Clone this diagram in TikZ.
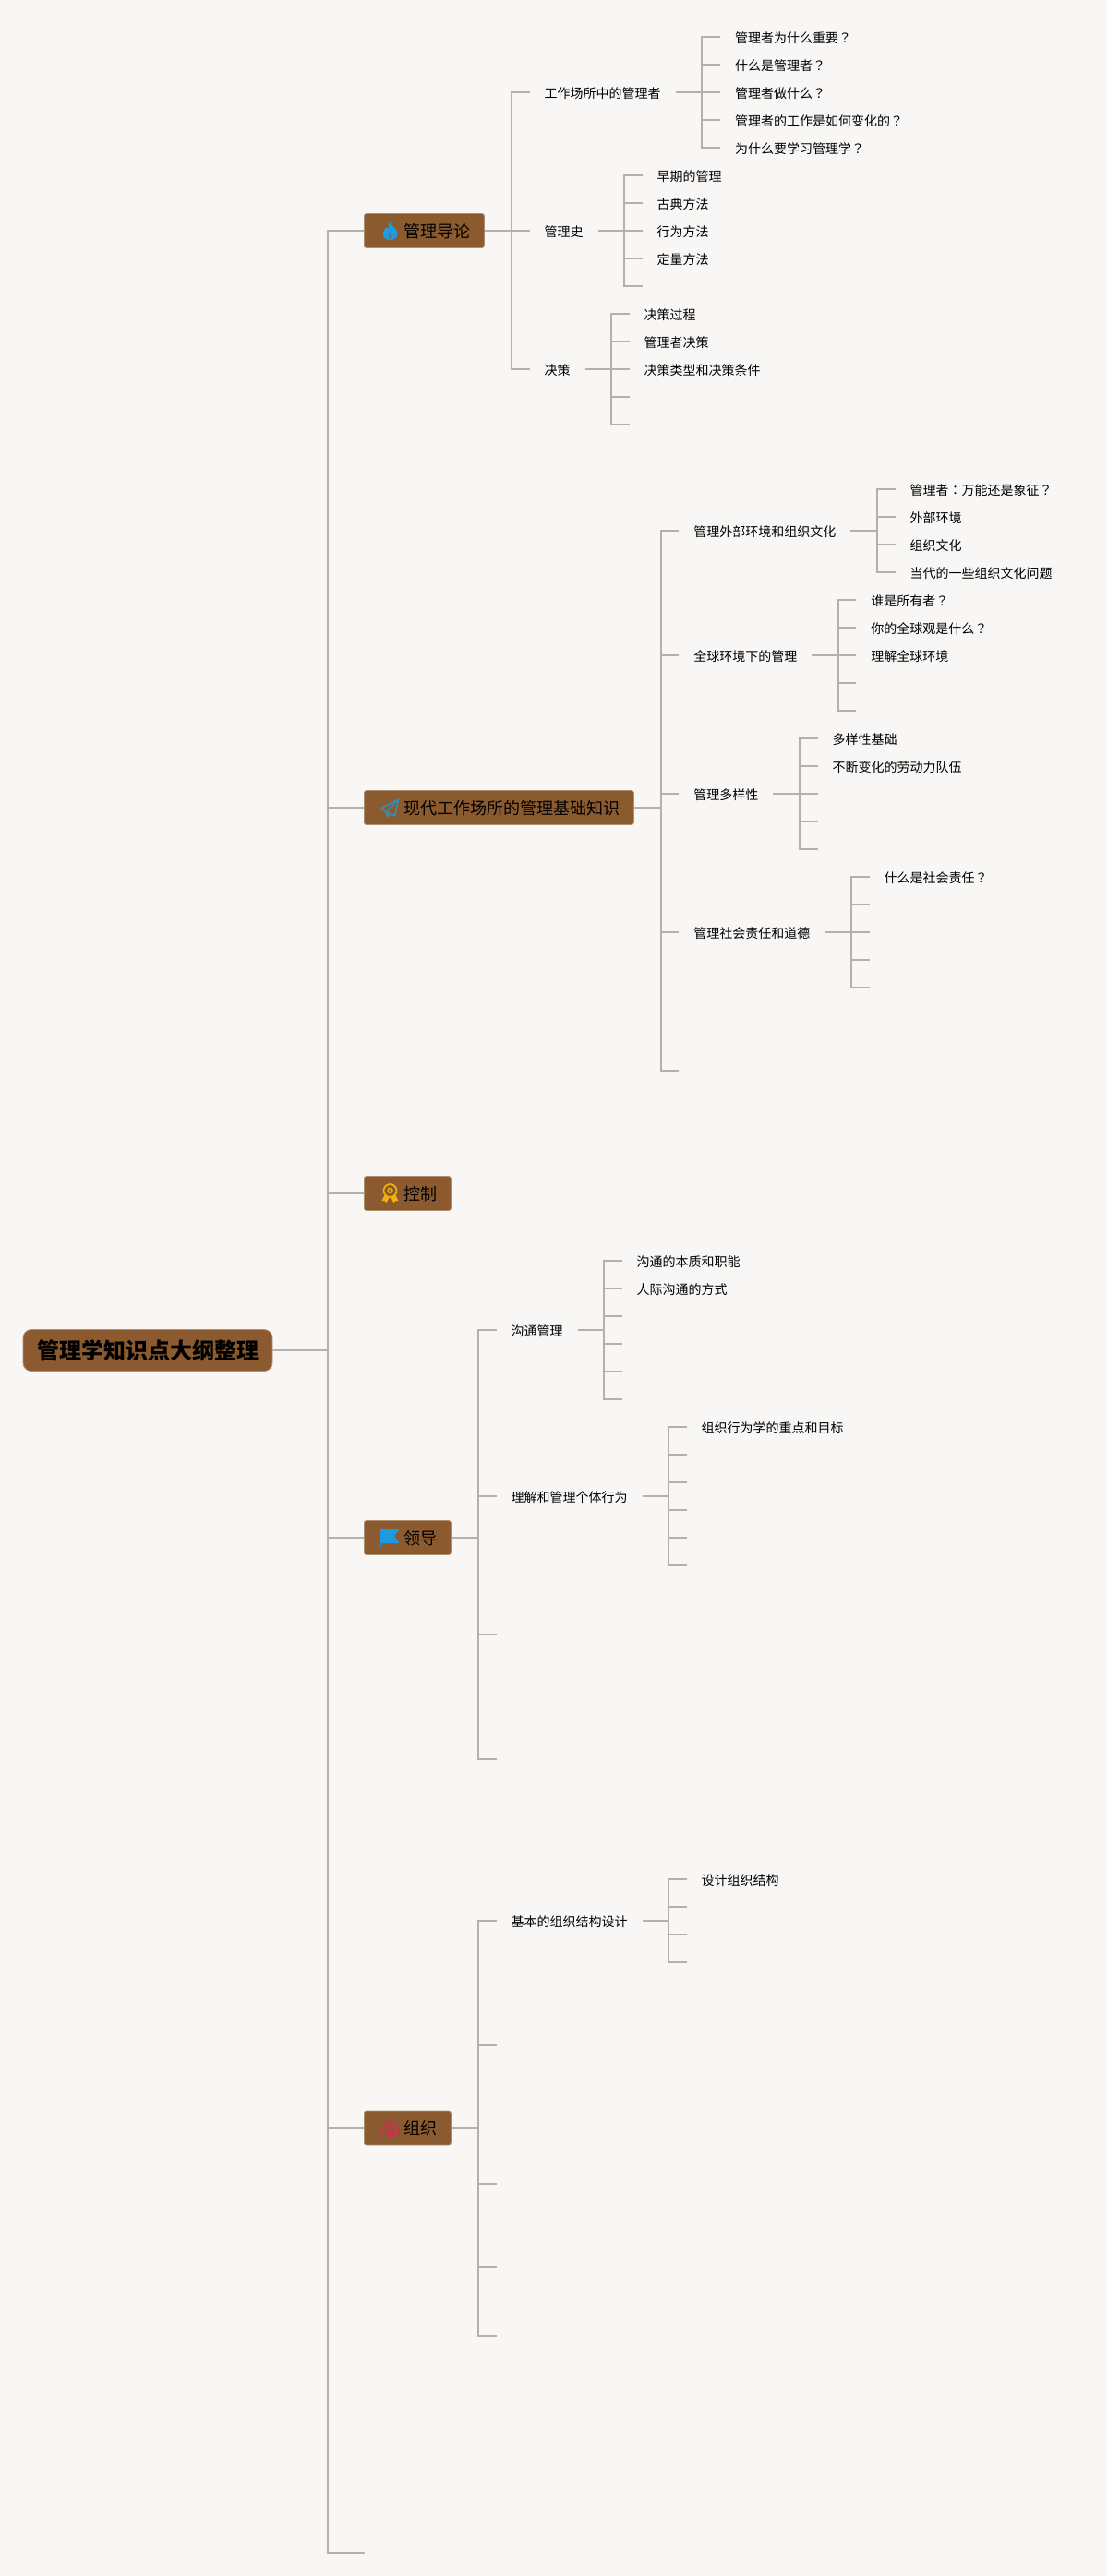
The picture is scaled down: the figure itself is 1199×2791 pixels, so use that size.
\documentclass[tikz,border=0pt]{standalone}
\usepackage{fontspec}
\setmainfont{Noto Sans CJK SC}
\newfontfamily\tcfont{Noto Sans CJK TC}
\usetikzlibrary{positioning}

\definecolor{paper}{HTML}{F9F7F5}
\definecolor{wire}{HTML}{B5B0AA}
\definecolor{bark}{HTML}{8B5A2F}
\definecolor{barkedge}{HTML}{B08F70}
\definecolor{skyblue}{HTML}{1E9BE0}
\definecolor{planeblue}{HTML}{3A8BB0}
\definecolor{gold}{HTML}{F0B010}
\definecolor{rosered}{HTML}{D02B55}

\newcommand{\boxtext}[1]{\hspace*{43pt}#1\hspace*{15pt}}
\newcommand{\askmark}{{\tcfont ？}}
\newcommand{\colonmark}{{\tcfont ：}}

\tikzset{
    flame/.pic={
        \fill[skyblue] (0,-10) .. controls (1,-5) and (8,-2) .. (8,3)
            .. controls (8,8) and (4,10) .. (0,10)
            .. controls (-4,10) and (-8,8) .. (-8,3)
            .. controls (-8,0) and (-5,-2) .. (-4,-4)
            .. controls (-3,-2) and (-2,-2) .. (-2,-3)
            .. controls (-2,-5) and (-1,-8) .. (0,-10) -- cycle;
        \fill[bark, opacity=0.6] (0,2) .. controls (1,4) and (3,6) .. (2,8)
            .. controls (1,9) and (-1,9) .. (-2,8)
            .. controls (-3,6) and (-1,4) .. (0,2) -- cycle;
    },
    plane/.pic={
        \draw[planeblue, line width=1.6pt, line join=round] (9,-9) -- (-10,1) -- (-4,5) -- cycle;
        \draw[planeblue, line width=1.6pt, line join=round] (9,-9) -- (5,9) -- (-4,5) -- (-3,9.5) -- (0,7);
    },
    medal/.pic={
        \draw[gold, line width=1.7pt] (0,-3) circle (7);
        \draw[gold, line width=1.5pt] (0,-3) circle (2.4);
        \fill[gold] (-6,2) -- (-9,8) -- (-6,8) -- (-4,10) -- (-1,5) -- cycle;
        \fill[gold] (6,2) -- (9,8) -- (6,8) -- (4,10) -- (1,5) -- cycle;
    },
    banner/.pic={
        \draw[skyblue, line width=0.8pt] (-10,-9) -- (-10,10);
        \fill[skyblue] (-10,-9) -- (10,-9) -- (4.5,-2) -- (10,6) -- (-10,6) -- cycle;
    },
    house/.pic={
        \draw[rosered, line width=1.5pt, line join=round, rounded corners=2pt] (-9.5,9) -- (-9.5,1) -- (0,-8.5) -- (9.5,1) -- (9.5,9);
        \draw[rosered, line width=1.3pt] (-5,9) -- (-5,3) -- (0,-2.5) -- (5,3) -- (5,9);
        \fill[rosered] (-3.5,9) -- (-3.5,6) -- (0,2) -- (3.5,6) -- (3.5,9) -- cycle;
    }
}

\begin{document}
\begin{tikzpicture}[
            x = 1pt,
            y = -1pt,
            node distance = 30pt % distance between leaves
        ]

        \tikzstyle{root}=[
            draw = barkedge,
            line width = 0.8pt,
            fill = bark,
            rounded corners = 9pt,
            minimum width = 270pt,
            minimum height = 45pt,
            inner sep = 0pt,
            font = \fontsize{24}{24}\selectfont\bfseries
        ]
        \tikzstyle{branch}=[
            draw = barkedge,
            line width = 0.8pt,
            fill = bark,
            rounded corners = 2.5pt,
            anchor = west,
            minimum height = 37pt,
            inner sep = 0pt,
            text height = 16pt,
            text depth = 2pt,
            font = \fontsize{18}{18}\selectfont
        ]
        \tikzstyle{topic}=[
            anchor = west,
            inner xsep = 15.8pt,
            inner ysep = 0pt,
            text height = 13.5pt,
            text depth = 0.5pt,
            font = \fontsize{14}{14}\selectfont
        ]
        \tikzstyle{under}=[below=of #1.west, anchor=west]
        \tikzstyle{link}=[draw = wire, line width = 2pt]

        \fill[paper] (0,0) rectangle (1199,2791);
        \useasboundingbox (0,0) rectangle (1199,2791);

        \node[root] (root) at (160,1463) {管理学知识点大纲整理};

        \node[branch] (b1) at (394,250) {\boxtext{管理导论}};
        \node[branch] (b2) at (394,875) {\boxtext{现代工作场所的管理基础知识}};
        \node[branch] (b3) at (394,1293) {\boxtext{控制}};
        \node[branch] (b4) at (394,1666) {\boxtext{领导}};
        \node[branch] (b5) at (394,2305.5) {\boxtext{组织}};
        \coordinate (b6) at (395,2766);

        \pic at ([xshift=28.5pt]b1.west) {flame};
        \pic at ([xshift=28.5pt]b2.west) {plane};
        \pic at ([xshift=28.5pt]b3.west) {medal};
        \pic at ([xshift=28.5pt]b4.west) {banner};
        \pic at ([xshift=28.5pt]b5.west) {house};

        % first branch
        \node[topic] (s11) at (573.5,100) {工作场所中的管理者};
        \node[topic] (s12) at (573.5,250) {管理史};
        \node[topic] (s13) at (573.5,400) {决策};

        \node[topic] (a1) at (780,40) {管理者为什么重要\askmark};
        \node[topic, under=a1] (a2) {什么是管理者\askmark};
        \node[topic, under=a2] (a3) {管理者做什么\askmark};
        \node[topic, under=a3] (a4) {管理者的工作是如何变化的\askmark};
        \node[topic, under=a4] (a5) {为什么要学习管理学\askmark};

        \node[topic] (c1) at (695.5,190) {早期的管理};
        \node[topic, under=c1] (c2) {古典方法};
        \node[topic, under=c2] (c3) {行为方法};
        \node[topic, under=c3] (c4) {定量方法};
        \coordinate[under=c4] (c5);

        \node[topic] (d1) at (681.6,340) {决策过程};
        \node[topic, under=d1] (d2) {管理者决策};
        \node[topic, under=d2] (d3) {决策类型和决策条件};
        \coordinate[under=d3] (d4);
        \coordinate[under=d4] (d5);

        % second branch
        \node[topic] (s21) at (735.4,575) {管理外部环境和组织文化};
        \node[topic] (s22) at (735.4,710) {全球环境下的管理};
        \node[topic] (s23) at (735.4,860) {管理多样性};
        \node[topic] (s24) at (735.4,1010) {管理社会责任和道德};
        \coordinate (s25) at (735.4,1160);

        \node[topic] (e1) at (969.7,530) {管理者\colonmark 万能还是象征\askmark};
        \node[topic, under=e1] (e2) {外部环境};
        \node[topic, under=e2] (e3) {组织文化};
        \node[topic, under=e3] (e4) {当代的一些组织文化问题};

        \node[topic] (f1) at (927.3,650) {谁是所有者\askmark};
        \node[topic, under=f1] (f2) {你的全球观是什么\askmark};
        \node[topic, under=f2] (f3) {理解全球环境};
        \coordinate[under=f3] (f4);
        \coordinate[under=f4] (f5);

        \node[topic] (g1) at (885.5,800) {多样性基础};
        \node[topic, under=g1] (g2) {不断变化的劳动力队伍};
        \coordinate[under=g2] (g3);
        \coordinate[under=g3] (g4);
        \coordinate[under=g4] (g5);

        \node[topic] (h1) at (941.5,950) {什么是社会责任\askmark};
        \coordinate[under=h1] (h2);
        \coordinate[under=h2] (h3);
        \coordinate[under=h3] (h4);
        \coordinate[under=h4] (h5);

        % fourth branch
        \node[topic] (s41) at (537.7,1441) {沟通管理};
        \node[topic] (s42) at (537.7,1621) {理解和管理个体行为};
        \coordinate (s43) at (537.7,1771);
        \coordinate (s44) at (537.7,1906);

        \node[topic] (j1) at (673.7,1366) {沟通的本质和职能};
        \node[topic, under=j1] (j2) {人际沟通的方式};
        \coordinate[under=j2] (j3);
        \coordinate[under=j3] (j4);
        \coordinate[under=j4] (j5);
        \coordinate[under=j5] (j6);

        \node[topic] (k1) at (743.7,1546) {组织行为学的重点和目标};
        \coordinate[under=k1] (k2);
        \coordinate[under=k2] (k3);
        \coordinate[under=k3] (k4);
        \coordinate[under=k4] (k5);
        \coordinate[under=k5] (k6);

        % fifth branch
        \node[topic] (s51) at (537.7,2081) {基本的组织结构设计};
        \coordinate (s52) at (537.7,2216);
        \coordinate (s53) at (537.7,2366);
        \coordinate (s54) at (537.7,2456);
        \coordinate (s55) at (537.7,2531);

        \node[topic] (m1) at (743.7,2036) {设计组织结构};
        \coordinate[under=m1] (m2);
        \coordinate[under=m2] (m3);
        \coordinate[under=m3] (m4);

        % trunks
        \coordinate (t0) at (355,1463);
        \coordinate (t1) at (554,250);
        \coordinate (t11) at (760,100);
        \coordinate (t12) at (676,250);
        \coordinate (t13) at (661.6,400);
        \coordinate (t2) at (716,875);
        \coordinate (t21) at (950,575);
        \coordinate (t22) at (908,710);
        \coordinate (t23) at (866,860);
        \coordinate (t24) at (922,1010);
        \coordinate (t4) at (518,1666);
        \coordinate (t41) at (654,1441);
        \coordinate (t42) at (724,1621);
        \coordinate (t5) at (518,2305.5);
        \coordinate (t51) at (724,2081);

        \draw[link] (root) -- (t0) (t0) |- (b1) (t0) |- (b2) (t0) |- (b3) (t0) |- (b4) (t0) |- (b5) (t0) |- (b6);

        \draw[link] (b1) -- (t1) (t1) |- (s11) (t1) |- (s12) (t1) |- (s13);
        \draw[link] (s11) -- (t11) (t11) |- (a1) (t11) |- (a2) (t11) |- (a3) (t11) |- (a4) (t11) |- (a5);
        \draw[link] (s12) -- (t12) (t12) |- (c1) (t12) |- (c2) (t12) |- (c3) (t12) |- (c4) (t12) |- (c5);
        \draw[link] (s13) -- (t13) (t13) |- (d1) (t13) |- (d2) (t13) |- (d3) (t13) |- (d4) (t13) |- (d5);

        \draw[link] (b2) -- (t2) (t2) |- (s21) (t2) |- (s22) (t2) |- (s23) (t2) |- (s24) (t2) |- (s25);
        \draw[link] (s21) -- (t21) (t21) |- (e1) (t21) |- (e2) (t21) |- (e3) (t21) |- (e4);
        \draw[link] (s22) -- (t22) (t22) |- (f1) (t22) |- (f2) (t22) |- (f3) (t22) |- (f4) (t22) |- (f5);
        \draw[link] (s23) -- (t23) (t23) |- (g1) (t23) |- (g2) (t23) |- (g3) (t23) |- (g4) (t23) |- (g5);
        \draw[link] (s24) -- (t24) (t24) |- (h1) (t24) |- (h2) (t24) |- (h3) (t24) |- (h4) (t24) |- (h5);

        \draw[link] (b4) -- (t4) (t4) |- (s41) (t4) |- (s42) (t4) |- (s43) (t4) |- (s44);
        \draw[link] (s41) -- (t41) (t41) |- (j1) (t41) |- (j2) (t41) |- (j3) (t41) |- (j4) (t41) |- (j5) (t41) |- (j6);
        \draw[link] (s42) -- (t42) (t42) |- (k1) (t42) |- (k2) (t42) |- (k3) (t42) |- (k4) (t42) |- (k5) (t42) |- (k6);

        \draw[link] (b5) -- (t5) (t5) |- (s51) (t5) |- (s52) (t5) |- (s53) (t5) |- (s54) (t5) |- (s55);
        \draw[link] (s51) -- (t51) (t51) |- (m1) (t51) |- (m2) (t51) |- (m3) (t51) |- (m4);

    \end{tikzpicture}
\end{document}
